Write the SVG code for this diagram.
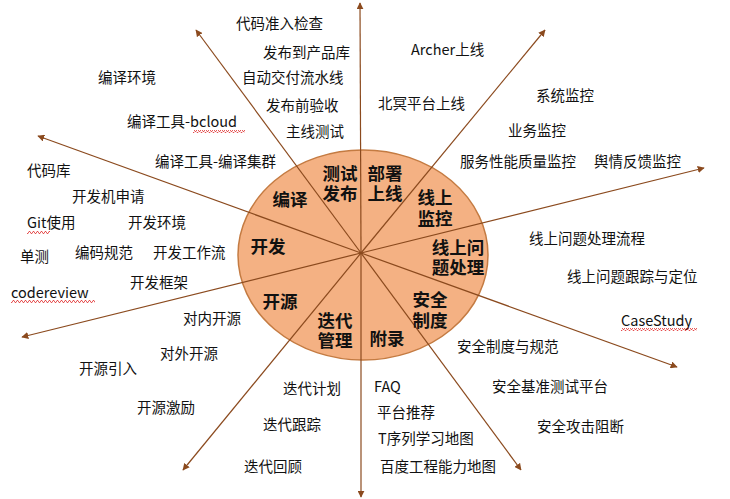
<svg xmlns="http://www.w3.org/2000/svg" width="730" height="499" viewBox="0 0 730 499">
<style>
.t{font-family:"Noto Sans CJK SC","Liberation Sans",sans-serif;font-size:14.5px;fill:#111}
.b{font-family:"Noto Sans CJK SC","Liberation Sans",sans-serif;font-size:17.5px;font-weight:bold;fill:#111;text-anchor:middle}
.c{stroke:#8B4A1E;stroke-width:1.2;fill:none;marker-end:url(#ah)}
.w{fill:url(#wave)}
</style>
<defs>
<marker id="ah" viewBox="0 0 10 10" refX="9" refY="5" markerWidth="7" markerHeight="7" markerUnits="userSpaceOnUse" orient="auto">
<path d="M0,0 L10,5 L0,10 z" fill="#8B4A1E"/>
</marker>
<pattern id="wave" patternUnits="userSpaceOnUse" width="4" height="3">
<path d="M0,2.5 L1,0.5 L2,0.5 L3,2.5 L4,2.5" stroke="#E03030" stroke-width="0.8" fill="none"/>
</pattern>
</defs>
<g id="hub">
<ellipse cx="363" cy="255" rx="125" ry="105" fill="#F4B183" stroke="#C47B42" stroke-width="1.5"/>
</g>
<g id="connectors">
<line class="c" x1="361" y1="253" x2="360" y2="3"/>
<line class="c" x1="361" y1="253" x2="361" y2="497"/>
<line class="c" x1="361" y1="253" x2="196" y2="30"/>
<line class="c" x1="361" y1="253" x2="38" y2="136"/>
<line class="c" x1="361" y1="253" x2="22" y2="337"/>
<line class="c" x1="361" y1="253" x2="183" y2="470"/>
<line class="c" x1="361" y1="253" x2="521" y2="470"/>
<line class="c" x1="361" y1="253" x2="677" y2="367"/>
<line class="c" x1="361" y1="253" x2="704" y2="168"/>
<line class="c" x1="361" y1="253" x2="545" y2="30"/>
</g>
<g id="sector-labels">
<g id="s-ceshi"><text class="b" x="340" y="180"><tspan x="340">测试</tspan><tspan x="340" dy="20">发布</tspan></text></g>
<g id="s-bushu"><text class="b" x="385" y="180"><tspan x="385">部署</tspan><tspan x="385" dy="20">上线</tspan></text></g>
<g id="s-bianyi"><text class="b" x="290" y="206">编译</text></g>
<g id="s-jiankong"><text class="b" x="435" y="204"><tspan x="435">线上</tspan><tspan x="435" dy="21">监控</tspan></text></g>
<g id="s-kaifa"><text class="b" x="268" y="253">开发</text></g>
<g id="s-wenti"><text class="b" x="458" y="254"><tspan x="458">线上问</tspan><tspan x="458" dy="20">题处理</tspan></text></g>
<g id="s-kaiyuan"><text class="b" x="280" y="308">开源</text></g>
<g id="s-diedai"><text class="b" x="335" y="327"><tspan x="335">迭代</tspan><tspan x="335" dy="20">管理</tspan></text></g>
<g id="s-anquan"><text class="b" x="430" y="306"><tspan x="430">安全</tspan><tspan x="430" dy="21">制度</tspan></text></g>
<g id="s-fulu"><text class="b" x="387" y="345">附录</text></g>
</g>
<g id="items">
<g id="i1"><text class="t" x="236" y="29">代码准入检查</text></g>
<g id="i2"><text class="t" x="263" y="58">发布到产品库</text></g>
<g id="i3"><text class="t" x="242" y="83">自动交付流水线</text></g>
<g id="i4"><text class="t" x="266" y="111">发布前验收</text></g>
<g id="i5"><text class="t" x="286" y="137">主线测试</text></g>
<g id="i6"><text class="t" x="98" y="83">编译环境</text></g>
<g id="i7"><text class="t" x="127" y="127">编译工具-bcloud</text><rect class="w" x="193" y="130" width="52" height="3"/></g>
<g id="i8"><text class="t" x="155" y="167">编译工具-编译集群</text></g>
<g id="i9"><text class="t" x="27" y="176">代码库</text></g>
<g id="i10"><text class="t" x="72" y="202">开发机申请</text></g>
<g id="i11"><text class="t" x="27" y="228">Git使用</text><rect class="w" x="27" y="231" width="23" height="3"/></g>
<g id="i12"><text class="t" x="128" y="228">开发环境</text></g>
<g id="i13"><text class="t" x="20" y="262">单测</text></g>
<g id="i14"><text class="t" x="75" y="258">编码规范</text></g>
<g id="i15"><text class="t" x="153" y="258">开发工作流</text></g>
<g id="i16"><text class="t" x="130" y="288">开发框架</text></g>
<g id="i17"><text class="t" x="11" y="298">codereview</text><rect class="w" x="11" y="300" width="84" height="3"/></g>
<g id="i18"><text class="t" x="183" y="324">对内开源</text></g>
<g id="i19"><text class="t" x="160" y="359">对外开源</text></g>
<g id="i20"><text class="t" x="79" y="374">开源引入</text></g>
<g id="i21"><text class="t" x="137" y="413">开源激励</text></g>
<g id="i22"><text class="t" x="283" y="394">迭代计划</text></g>
<g id="i23"><text class="t" x="263" y="430">迭代跟踪</text></g>
<g id="i24"><text class="t" x="244" y="472">迭代回顾</text></g>
<g id="i25"><text class="t" x="411" y="55">Archer上线</text></g>
<g id="i26"><text class="t" x="378" y="109">北冥平台上线</text></g>
<g id="i27"><text class="t" x="536" y="101">系统监控</text></g>
<g id="i28"><text class="t" x="508" y="136">业务监控</text></g>
<g id="i29"><text class="t" x="460" y="167">服务性能质量监控</text></g>
<g id="i30"><text class="t" x="594" y="167">舆情反馈监控</text></g>
<g id="i31"><text class="t" x="529" y="244">线上问题处理流程</text></g>
<g id="i32"><text class="t" x="567" y="282">线上问题跟踪与定位</text></g>
<g id="i33"><text class="t" x="621" y="326">CaseStudy</text><rect class="w" x="621" y="328" width="76" height="3"/></g>
<g id="i34"><text class="t" x="457" y="352">安全制度与规范</text></g>
<g id="i35"><text class="t" x="374" y="392">FAQ</text></g>
<g id="i36"><text class="t" x="377" y="418">平台推荐</text></g>
<g id="i37"><text class="t" x="378" y="444">T序列学习地图</text></g>
<g id="i38"><text class="t" x="380" y="472">百度工程能力地图</text></g>
<g id="i39"><text class="t" x="492" y="392">安全基准测试平台</text></g>
<g id="i40"><text class="t" x="537" y="432">安全攻击阻断</text></g>
</g>
</svg>
